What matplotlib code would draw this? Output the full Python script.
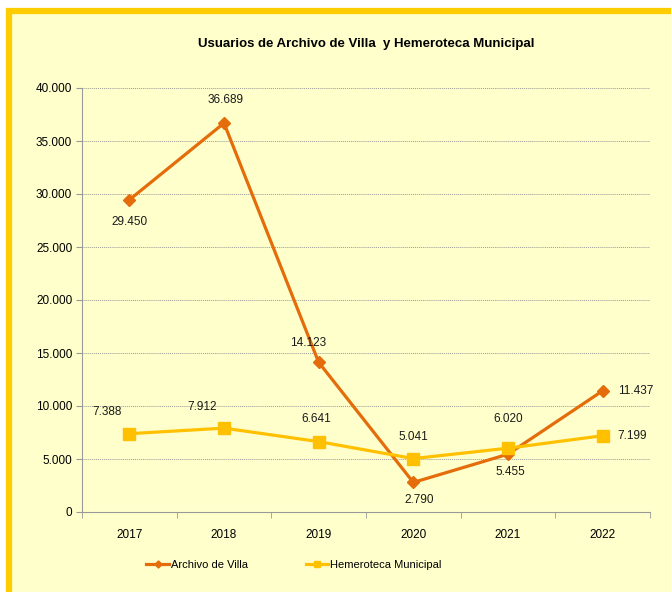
import matplotlib.pyplot as plt
from matplotlib.patches import Rectangle
from matplotlib.ticker import FuncFormatter

years = ["2017", "2018", "2019", "2020", "2021", "2022"]
archivo = [29450, 36689, 14123, 2790, 5455, 11437]
hemeroteca = [7388, 7912, 6641, 5041, 6020, 7199]

# label offsets in pixels (dx, dy) for each point
archivo_off = [(0, -22), (2, 23), (-11, 19), (6, -18), (2, -18), (15, 0)]
hemero_off = [(-22, 22), (-22, 21), (-2, 23), (0, 22), (0, 29), (15, 0)]

ORANGE = "#E46C0A"
YELLOW = "#FFC000"
BG = "#FFFFCC"

plt.rcParams["font.family"] = ["Liberation Sans", "DejaVu Sans"]

fig = plt.figure(figsize=(6.71, 5.92), dpi=100)
fig.patch.set_facecolor("white")
# chart area with yellow frame (cut at the right and bottom)
fig.patches.append(Rectangle((9 / 671, -0.02), 1.1, 1 - 11 / 592 + 0.02, transform=fig.transFigure,
                             facecolor=BG, edgecolor="#FFCC00", linewidth=4.5, zorder=-5))

ax = fig.add_axes([82 / 671, 1 - 512 / 592, 568 / 671, 424 / 592])
ax.set_facecolor(BG)
x = list(range(len(years)))

ax.plot(x, archivo, color=ORANGE, lw=2.3, marker="D", ms=6, label="Archivo de Villa", zorder=3)
ax.plot(x, hemeroteca, color=YELLOW, lw=2.3, marker="s", ms=8, label="Hemeroteca Municipal", zorder=3)

def fmt(v):
    return f"{v:,.0f}".replace(",", ".")

for vals, offs in [(archivo, archivo_off), (hemeroteca, hemero_off)]:
    for i, (v, (dx, dy)) in enumerate(zip(vals, offs)):
        ha = "left" if i == len(vals) - 1 else "center"
        ax.annotate(fmt(v), (i, v), xytext=(dx, dy), textcoords="offset pixels",
                    ha=ha, va="center", fontsize=8.5, color="#1a1a1a")

ax.set_xlim(-0.5, 5.5)
ax.set_ylim(0, 40000)
ax.set_yticks(range(0, 40001, 5000))
ax.yaxis.set_major_formatter(FuncFormatter(lambda v, p: fmt(v)))
ax.set_xticks(x)
ax.set_xticklabels(years)
ax.set_xticks([i - 0.5 for i in range(7)], minor=True)
ax.tick_params(axis="x", which="major", length=0, pad=12, labelsize=8.5)
ax.tick_params(axis="x", which="minor", length=4, color="#999999")
ax.tick_params(axis="y", length=4, color="#999999", labelsize=8.5, pad=3)
ax.grid(axis="y", color="#999999", linestyle=(0, (1, 1)), lw=0.7)
for s in ["top", "right"]:
    ax.spines[s].set_visible(False)
for s in ["left", "bottom"]:
    ax.spines[s].set_color("#999999")

ax.set_title("Usuarios de Archivo de Villa  y Hemeroteca Municipal", fontsize=9.5,
             fontweight="bold", pad=0, y=1 + 41 / 424)

fig.legend(loc="center", bbox_to_anchor=(294 / 671, 1 - 565 / 592), ncol=2, frameon=False,
           fontsize=8, handlelength=2.0, handletextpad=0.2,
           columnspacing=5.2, markerscale=0.6)

fig.savefig("out.png", dpi=100)
